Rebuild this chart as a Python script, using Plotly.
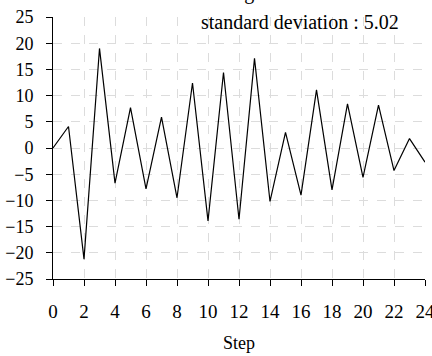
import plotly.graph_objects as go

steps = list(range(25))
values = [0.0, 4.1, -21.2, 19.0, -6.7, 7.7, -7.8, 5.9, -9.5, 12.4, -13.9, 14.4,
          -13.6, 17.1, -10.2, 3.0, -9.0, 11.1, -8.0, 8.4, -5.6, 8.2, -4.3, 1.8, -2.7]
x_ticks = list(range(0, 25, 2))
y_ticks = list(range(-25, 26, 5))
std_text = "standard deviation : 5.02"
avg_text = "average : 0.11"
x_title = "Step"

font_family = "Liberation Serif"

fig = go.Figure()
fig.add_trace(go.Scatter(x=steps, y=values, mode="lines",
                         line=dict(color="black", width=1.2), showlegend=False))

fig.update_layout(
    width=432, height=356,
    margin=dict(l=53, r=7, t=17, b=77),
    paper_bgcolor="white", plot_bgcolor="white",
    font=dict(family=font_family, size=18, color="black"),
    xaxis=dict(range=[0, 24], tickvals=x_ticks, showgrid=True, automargin=False,
               gridcolor="#dcdcdc", griddash="dash", gridwidth=1,
               showline=True, linecolor="black", linewidth=1,
               ticks="outside", ticklen=6, tickcolor="black",
               tickfont=dict(family=font_family, size=19),
               ticklabeloverflow="allow",
               ticklabelstandoff=9, zeroline=False),
    yaxis=dict(range=[-25, 25], tickvals=y_ticks, showgrid=True, automargin=False,
               gridcolor="#dcdcdc", griddash="dash", gridwidth=1,
               showline=True, linecolor="black", linewidth=1,
               ticks="outside", ticklen=6, tickcolor="black",
               tickfont=dict(family=font_family, size=18),
               ticklabelstandoff=9, zeroline=False),
    annotations=[
        dict(text=std_text, xref="paper", yref="paper", x=(199 - 53) / 372,
             y=1.0, xanchor="left", yanchor="bottom", yshift=-18, showarrow=False,
             font=dict(family=font_family, size=20)),
        dict(text=avg_text, xref="paper", yref="paper", x=(199 - 53) / 372,
             y=1.0, xanchor="left", yanchor="bottom", yshift=11, showarrow=False,
             font=dict(family=font_family, size=20)),
        dict(text=x_title, xref="paper", yref="paper", x=0.5, y=0,
             xanchor="center", yanchor="middle", yshift=-64, showarrow=False,
             font=dict(family=font_family, size=18)),
    ],
)

fig.write_html("out.html", config={"displayModeBar": False},
               post_script="document.body.style.margin='0';")
